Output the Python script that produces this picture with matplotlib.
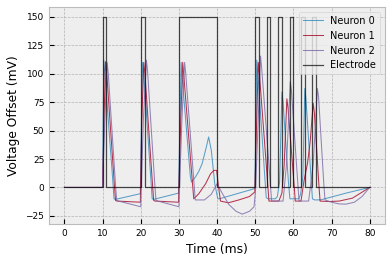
import numpy as np
import matplotlib
matplotlib.use('Agg')
import matplotlib.pyplot as plt

# electrode pulses (ms) and amplitude (mV)
pulse_on = [10, 20, 30, 50, 53, 56, 59, 62, 65]
pulse_off = [11, 21, 40, 51, 54, 57, 60, 63, 66]
pulse_amp = 150
t_end = 80

# neuron traces: (time ms, offset mV)
n0_t = [0, 10.0, 10.3, 10.6, 12.7, 13.0, 13.4, 19.9, 20.2, 20.5, 20.8, 22.7, 23.0, 23.4,
        29.9, 30.3, 30.6, 30.9, 33.0, 33.3, 34.3, 35.2, 36.1, 37.2, 37.8, 38.5, 39.4, 40.2,
        40.6, 49.9, 50.2, 50.4, 50.7, 52.6, 52.9, 53.4, 55.3, 55.8, 56.4, 57.0, 57.3, 58.7,
        59.1, 59.5, 61.4, 61.9, 62.5, 63.0, 63.3, 64.7, 65.0, 65.6, 67.2, 73.8, 80]
n0_v = [0, 0, 112, 100, 5, -10, -10.5, -5.5, 60, 110, 100, 5, -10, -10.5,
        -5, 60, 110, 95, 10, 4.7, 9, 14, 21, 35.6, 44.4, 32.7, 3.2, -10,
        -10, -1, 60, 112, 100, 5, -9, -10, -10, -8, 5, 84, 75, 5, -10,
        -10, -10, -6, 10, 87, 78, 5, -10, -11, -10.9, -5, 0]

n1_t = [0, 10.0, 10.4, 10.75, 11.1, 13.1, 13.4, 13.8, 19.9, 20.3, 20.8, 21.1, 23.1, 23.4,
        23.8, 29.9, 30.5, 31.0, 31.3, 33.6, 33.9, 35.2, 37.0, 38.3, 39.2, 39.9, 40.3, 40.9,
        43.0, 45.7, 48.5, 49.9, 50.4, 50.8, 51.1, 53.3, 53.6, 56.2, 57.0, 57.6, 58.3, 58.6,
        60.2, 60.5, 62.0, 62.8, 63.7, 64.4, 65.2, 65.5, 66.7, 67.0, 69.4, 72.0, 75.5, 80]
n1_v = [0, 0, 60, 110.6, 100, 2, -11.5, -12, -13, 60, 110, 100, 2, -11.5,
        -12, -13, 60, 110, 98, 2, -10, -5.6, 3.2, 12, 15, 15, 3, -12,
        -13.5, -11, -8, -4, 60, 110, 100, 2, -12, -12, -5, 20, 78, 70,
        2, -12, -12, 6, 21, 40, 74, 66, 2, -12, -12.4, -12, -9.4, 0]

n2_t = [0, 10.0, 10.6, 11.2, 11.5, 13.4, 13.7, 14.2, 20.0, 20.7, 21.5, 21.8, 23.7, 24.0,
        24.5, 30.0, 30.8, 31.5, 31.8, 34.0, 34.3, 36.7, 38.5, 40.0, 41.5, 43.1, 45.0, 46.6,
        48.5, 49.7, 50.1, 50.8, 51.4, 51.7, 54.0, 54.3, 57.3, 58.2, 59.2, 59.5, 61.2, 61.5,
        64.0, 65.2, 66.3, 66.6, 68.0, 68.3, 70.0, 72.0, 73.8, 76.0, 78.0, 80]
n2_v = [0, 0, 60, 110, 100, 2, -11.5, -12, -17, 60, 112, 102, 2, -11.5,
        -12, -17, 60, 110, 100, 2, -11, -11, -6, 3.2, -6, -15, -21, -23.5,
        -21, -17, -2, 60, 115.6, 105, 2, -12, -12, 20, 93, 85, 2, -12,
        -12, 20, 87, 80, 2, -11, -13, -14.5, -14.7, -13, -8, 0]

# electrode step trace
el_t = [0]
el_v = [0]
for on, off in zip(pulse_on, pulse_off):
    el_t += [on, on, off, off]
    el_v += [0, pulse_amp, pulse_amp, 0]
el_t.append(t_end)
el_v.append(0)

plt.style.use('bmh')
fig = plt.figure(figsize=(3.9, 2.62), dpi=100)
ax = fig.add_subplot(111)
fig.subplots_adjust(left=0.126, right=0.987, bottom=0.145, top=0.973)

ax.plot(n0_t, n0_v, color='#348ABD', lw=0.75, alpha=0.8, label='Neuron 0')
ax.plot(n1_t, n1_v, color='#A60628', lw=0.75, alpha=0.8, label='Neuron 1')
ax.plot(n2_t, n2_v, color='#7A68A6', lw=0.75, alpha=0.8, label='Neuron 2')
ax.plot(el_t, el_v, color='k', lw=0.9, alpha=0.7, label='Electrode')

ax.set_xticks(range(0, 81, 10))
ax.set_yticks(range(-25, 151, 25))
ax.tick_params(labelsize=6.5)
ax.set_xlabel('Time (ms)', fontsize=8.8)
ax.set_ylabel('Voltage Offset (mV)', fontsize=8.8)
ax.legend(loc='upper right', fontsize=7)

fig.savefig('out.png', dpi=100)
